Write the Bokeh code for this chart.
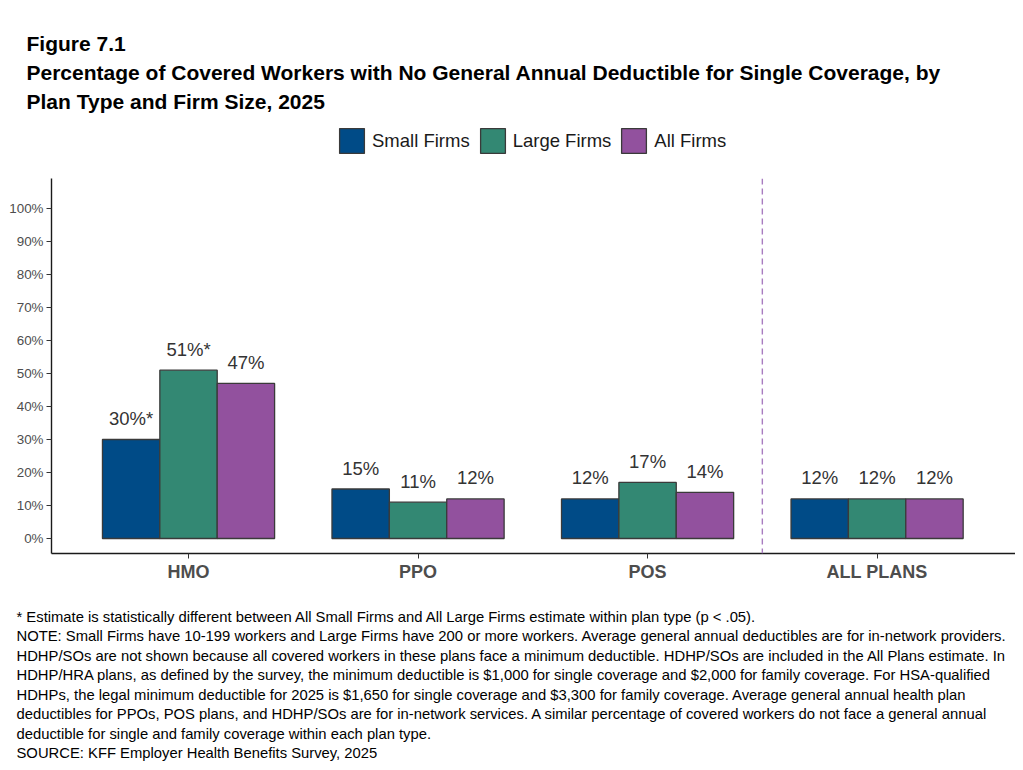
from bokeh.plotting import figure
from bokeh.layouts import column
from bokeh.models import (ColumnDataSource, Range1d, Label, Legend, LegendItem,
                          Span, FixedTicker)
from bokeh.transform import dodge
from bokeh.core.properties import value
from bokeh.embed import file_html
from bokeh.resources import INLINE

# ---------------- data ----------------
plan_types = ["HMO", "PPO", "POS", "ALL PLANS"]
small_firms = [30, 15, 12, 12]
large_firms = [51, 11, 17, 12]
all_firms = [47, 12, 14, 12]
small_labels = ["30%*", "15%", "12%", "12%"]
large_labels = ["51%*", "11%", "17%", "12%"]
all_labels = ["47%", "12%", "14%", "12%"]
y_ticks = [0, 10, 20, 30, 40, 50, 60, 70, 80, 90, 100]
y_tick_labels = [f"{t}%" for t in y_ticks]
series_names = ["Small Firms", "Large Firms", "All Firms"]
colors = ["#004B87", "#338873", "#92519E"]

title_lines = [
    "Figure 7.1",
    "Percentage of Covered Workers with No General Annual Deductible for Single Coverage, by",
    "Plan Type and Firm Size, 2025",
]
notes = [
    "* Estimate is statistically different between All Small Firms and All Large Firms estimate within plan type (p < .05).",
    "NOTE: Small Firms have 10-199 workers and Large Firms have 200 or more workers. Average general annual deductibles are for in-network providers.",
    "HDHP/SOs are not shown because all covered workers in these plans face a minimum deductible. HDHP/SOs are included in the All Plans estimate. In",
    "HDHP/HRA plans, as defined by the survey, the minimum deductible is $1,000 for single coverage and $2,000 for family coverage. For HSA-qualified",
    "HDHPs, the legal minimum deductible for 2025 is $1,650 for single coverage and $3,300 for family coverage. Average general annual health plan",
    "deductibles for PPOs, POS plans, and HDHP/SOs are for in-network services. A similar percentage of covered workers do not face a general annual",
    "deductible for single and family coverage within each plan type.",
    "SOURCE: KFF Employer Health Benefits Survey, 2025",
]

FONT = "Liberation Sans"
W = 1015
TOP_H = 178
FRAME_H = 375
XAX_H = 47
MAIN_H = FRAME_H + XAX_H
BOT_H = 162
BASE_FIX = 6  # svg alphabetic baseline correction


def blank(h):
    f = figure(width=W, height=h, output_backend="svg", toolbar_location=None,
               x_range=Range1d(0, 1), y_range=Range1d(0, 1),
               x_axis_location=None, y_axis_location=None, min_border=0,
               frame_align=False)
    f.title = None
    f.outline_line_color = None
    f.xgrid.visible = False
    f.ygrid.visible = False
    return f


# ---------------- header: titles + legend ----------------
top = blank(TOP_H)
for txt, b in zip(title_lines, [49, 78, 107]):
    top.add_layout(Label(x=26, y=TOP_H - (b - BASE_FIX), x_units="screen", y_units="screen",
                         text=txt, text_font=FONT, text_font_size="21px",
                         text_font_style="bold", text_color="#000000",
                         text_baseline="alphabetic"))

# legend proxies: NaN geometry, so only their legend swatches are drawn
nan = float("nan")
proxy_src = ColumnDataSource(data=dict(x=[nan], top=[nan]))
proxies = [top.vbar(x="x", top="top", width=0.1, source=proxy_src, fill_color=c,
                    line_color="#3a3a3a", line_width=1.3) for c in colors]
legend = Legend(items=[LegendItem(label=n, renderers=[r]) for n, r in zip(series_names, proxies)],
                orientation="horizontal", location=(336, TOP_H - 156),
                glyph_width=31, glyph_height=31, label_standoff=5, spacing=7,
                padding=0, margin=0, border_line_color=None,
                background_fill_alpha=0,
                label_text_font=FONT, label_text_font_size="18.5px",
                label_text_color="#1a1a1a", label_height=31)
top.add_layout(legend)

# ---------------- main chart ----------------
x_idx = list(range(len(plan_types)))
src = ColumnDataSource(data=dict(
    x=x_idx, small=small_firms, large=large_firms, all=all_firms,
    small_lab=small_labels, large_lab=large_labels, all_lab=all_labels,
))

p = figure(width=W, height=MAIN_H, output_backend="svg", toolbar_location=None,
           x_range=Range1d(-0.597, 3.603), y_range=Range1d(-4.545, 109.09),
           min_border_left=51, min_border_right=0, min_border_top=0,
           min_border_bottom=XAX_H, frame_align=False)
p.title = None
p.outline_line_color = None
p.xgrid.visible = False
p.ygrid.visible = False

offsets = [-0.25, 0.0, 0.25]
fields = ["small", "large", "all"]
lab_fields = ["small_lab", "large_lab", "all_lab"]
for off, f, lf, c in zip(offsets, fields, lab_fields, colors):
    p.vbar(x=dodge("x", off, range=p.x_range), top=f, bottom=0, width=0.25,
           source=src, fill_color=c, line_color="#3a3a3a", line_width=1.3)
    p.text(x=dodge("x", off, range=p.x_range), y=f, text=lf, source=src,
           text_align="center", text_baseline="alphabetic", y_offset=-21,
           text_font=value(FONT), text_font_size="18.5px", text_color="#333333")

p.add_layout(Span(location=2.5, dimension="height", line_color="#A87CC0",
                  line_dash="6 4", line_width=1.4))

p.yaxis.ticker = FixedTicker(ticks=y_ticks)
p.yaxis.major_label_overrides = {t: l for t, l in zip(y_ticks, y_tick_labels)}
p.yaxis.major_label_text_font = FONT
p.yaxis.major_label_text_font_size = "13.4px"
p.yaxis.major_label_text_color = "#4D4D4D"
p.yaxis.major_tick_out = 5
p.yaxis.major_tick_in = 0
p.yaxis.minor_tick_line_color = None
p.yaxis.major_label_standoff = 3
p.yaxis.axis_line_width = 1.4
p.yaxis.axis_line_color = "#1a1a1a"
p.yaxis.major_tick_line_color = "#333333"

p.xaxis.ticker = FixedTicker(ticks=x_idx)
p.xaxis.major_label_overrides = {i: n for i, n in zip(x_idx, plan_types)}
p.xaxis.major_label_text_font = FONT
p.xaxis.major_label_text_font_size = "18px"
p.xaxis.major_label_text_font_style = "bold"
p.xaxis.major_label_text_color = "#4D4D4D"
p.xaxis.major_tick_out = 5
p.xaxis.major_tick_in = 0
p.xaxis.minor_tick_line_color = None
p.xaxis.major_label_standoff = 3
p.xaxis.axis_line_width = 1.4
p.xaxis.axis_line_color = "#1a1a1a"
p.xaxis.major_tick_line_color = "#333333"

# ---------------- footer: notes ----------------
bot = blank(BOT_H)
Y0 = TOP_H + MAIN_H
for i, txt in enumerate(notes):
    b = 622 + 19.5 * i - BASE_FIX
    bot.add_layout(Label(x=16, y=BOT_H - (b - Y0), x_units="screen", y_units="screen",
                         text=txt, text_font=FONT, text_font_size="14.8px",
                         text_color="#000000", text_baseline="alphabetic"))

layout = column(top, p, bot, spacing=0)
open("out.html", "w").write(file_html(layout, INLINE))
